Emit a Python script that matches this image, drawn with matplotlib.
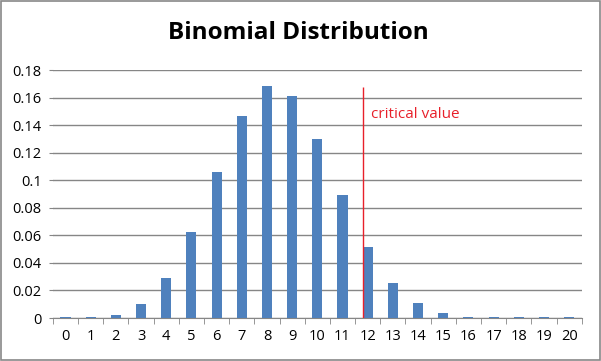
import matplotlib
matplotlib.use("Agg")
import matplotlib.pyplot as plt  # noqa: E402
from matplotlib.patches import Rectangle  # noqa: E402

successes = list(range(21))
probabilities = [
    0.0005, 0.0006, 0.0024, 0.0104, 0.0292, 0.0626, 0.1060, 0.1468,
    0.1686, 0.1613, 0.1301, 0.0895, 0.0518, 0.0256, 0.0111, 0.0039,
    0.0006, 0.0005, 0.0005, 0.0005, 0.0005,
]
critical_x = 11.82
critical_top = 0.168
critical_label = "critical value"
y_ticks = [0, 0.02, 0.04, 0.06, 0.08, 0.1, 0.12, 0.14, 0.16, 0.18]
y_tick_labels = ["0", "0.02", "0.04", "0.06", "0.08", "0.1", "0.12", "0.14", "0.16", "0.18"]

plt.rcParams["font.family"] = ["Open Sans", "DejaVu Sans"]

fig = plt.figure(figsize=(6.01, 3.61), dpi=100)
ax = fig.add_axes([0.088, 0.119, 0.880, 0.687])

ax.bar(successes, probabilities, width=0.4, color="#4F81BD", zorder=3)
ax.vlines(critical_x, 0, critical_top, color="#E8202A", linewidth=1.0, zorder=4)
ax.text(critical_x + 0.3, 0.148, critical_label, color="#E8202A", fontsize=11,
        va="center", ha="left")

ax.set_xlim(-0.5, 20.5)
ax.set_ylim(0, 0.18)
ax.set_yticks(y_ticks)
ax.set_yticklabels(y_tick_labels)
ax.set_xticks(successes)
ax.set_xticklabels([str(s) for s in successes])
ax.set_xticks([s - 0.5 for s in successes] + [20.5], minor=True)
ax.tick_params(axis="x", which="major", length=0, pad=8, labelsize=10.5)
ax.tick_params(axis="x", which="minor", length=4, color="#868686", direction="out")
ax.tick_params(axis="y", length=3, color="#868686", labelsize=10.5, pad=5)

ax.grid(axis="y", color="#868686", linewidth=1.0, zorder=0)
for side in ("left", "top", "right"):
    ax.spines[side].set_visible(False)
ax.spines["bottom"].set_color("#868686")

fig.text(0.497, 0.908, "Binomial Distribution", ha="center", va="center",
         fontsize=17.5, fontweight="bold")

fig.patches.append(Rectangle((0.001, 0.002), 0.997, 0.995, transform=fig.transFigure,
                             fill=False, edgecolor="#888888", linewidth=1.2))

fig.savefig("out.png", dpi=100)
